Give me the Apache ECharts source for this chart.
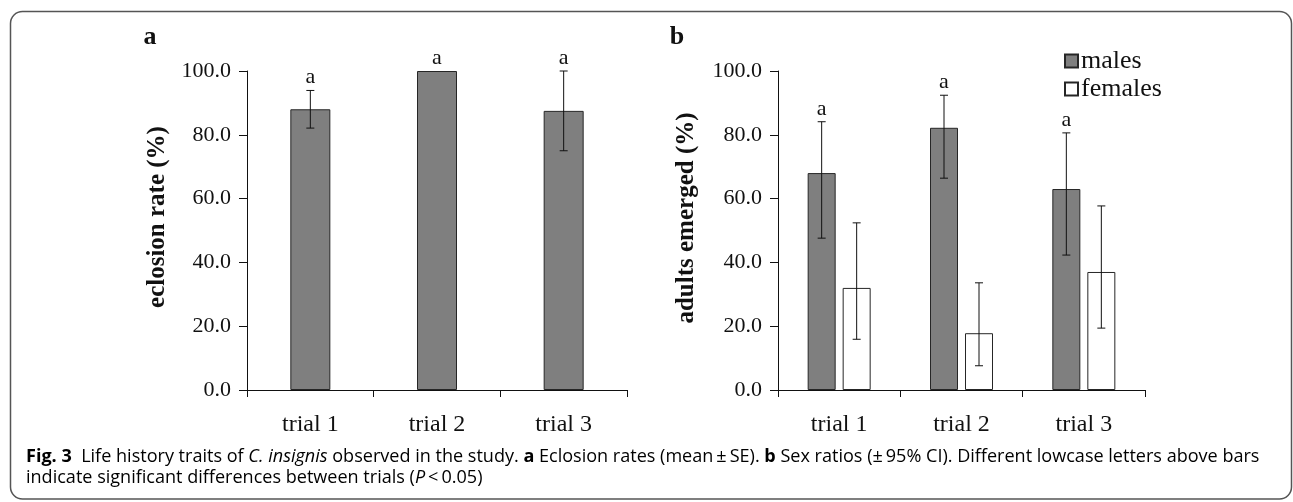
<!DOCTYPE html>
<html>
<head>
<meta charset="utf-8">
<script src="https://cdn.jsdelivr.net/npm/echarts@6/dist/echarts.min.js"></script>
<style>
html,body{margin:0;padding:0;background:#fff;}
#chart{width:1293px;height:502px;}
</style>
</head>
<body>
<div id="chart"></div>
<script>
// ---- data ----
const categories = ['trial 1', 'trial 2', 'trial 3'];
const yTickValues = [0, 20, 40, 60, 80, 100];

// panel a: eclosion rate (mean ± SE)
const eclosionMean = [88.0, 100.0, 87.5];
const eclosionSE = [5.9, 0.0, 12.5];
const eclosionLetters = ['a', 'a', 'a'];

// panel b: adults emerged (± 95% CI)
const malesPct = [68.0, 82.2, 63.0];
const malesCILow = [47.6, 66.4, 42.3];
const malesCIHigh = [84.1, 92.4, 80.6];
const femalesPct = [32.0, 17.8, 37.0];
const femalesCILow = [15.9, 7.6, 19.4];
const femalesCIHigh = [52.4, 33.6, 57.7];
const sexLetters = ['a', 'a', 'a'];

const legendNames = ['males', 'females'];
const yTitleA = 'eclosion rate (%)';
const yTitleB = 'adults emerged (%)';
const captionLine1 = [
  ['b', 'Fig. 3'], ['n', '  Life history traits of '], ['i', 'C. insignis'],
  ['n', ' observed in the study. '], ['b', 'a'], ['n', ' Eclosion rates (mean\u2009\u00b1\u2009SE). '],
  ['b', 'b'], ['n', ' Sex ratios (\u00b1\u200995% CI). Different lowcase letters above bars']
];
const captionLine2 = [
  ['n', 'indicate significant differences between trials ('], ['i', 'P'], ['n', '\u2009<\u20090.05)']
];

// ---- styling ----
const SERIF = '"Liberation Serif", "Times New Roman", serif';
const SANS = '"Open Sans", "Noto Sans", sans-serif';
const INK = '#111111';
const BAR_GREY = '#7f7f7f';
const BAR_EDGE = '#262626';

// fit caption font size to the width of the reference caption
function measure(parts, size) {
  const c = document.createElement('canvas').getContext('2d');
  let w = 0;
  parts.forEach(([k, t]) => {
    c.font = (k === 'b' ? 'bold ' : k === 'i' ? 'italic ' : '') + size + 'px ' + SANS;
    w += c.measureText(t).width;
  });
  return w;
}
const capSize = Math.min(19, 100 * 1234 / measure(captionLine1, 100));
const richCap = {
  n: { fontFamily: SANS, fontSize: capSize, color: '#231f20' },
  b: { fontFamily: SANS, fontSize: capSize, fontWeight: 'bold', color: '#231f20' },
  i: { fontFamily: SANS, fontSize: capSize, fontStyle: 'italic', color: '#231f20' }
};
const toRich = parts => parts.map(([k, t]) => '{' + k + '|' + t.replace(/[{}|]/g, '') + '}').join('');

function yAxisCfg(gridIndex) {
  return {
    type: 'value', gridIndex, min: yTickValues[0], max: yTickValues[yTickValues.length - 1],
    interval: yTickValues[1] - yTickValues[0],
    axisLine: { show: true, lineStyle: { color: INK, width: 1 } },
    axisTick: { show: true, length: 8, lineStyle: { color: INK } },
    splitLine: { show: false },
    axisLabel: { formatter: v => v.toFixed(1), fontFamily: SERIF, fontSize: 22, color: INK, margin: 16 }
  };
}
function xAxisCfg(gridIndex) {
  return {
    type: 'category', gridIndex, data: categories, boundaryGap: true,
    axisLine: { show: true, lineStyle: { color: INK, width: 1 } },
    axisTick: { show: true, length: 7, alignWithLabel: false, lineStyle: { color: INK } },
    axisLabel: { fontFamily: SERIF, fontSize: 24, color: INK, margin: 23 }
  };
}

function errorSeries(name, xi, yi, lows, highs, letters, offset) {
  return {
    type: 'custom', name, xAxisIndex: xi, yAxisIndex: yi, silent: true, z: 5,
    data: lows.map((lo, i) => [i, lo, highs[i]]),
    renderItem: (params, api) => {
      const i = api.value(0);
      const p0 = api.coord([i, api.value(1)]);
      const p1 = api.coord([i, api.value(2)]);
      const x = p0[0] + offset;
      const cap = 4;
      const st = { stroke: INK, lineWidth: 1 };
      const kids = [];
      if (Math.abs(p0[1] - p1[1]) > 0.5) {
        kids.push({ type: 'line', shape: { x1: x, y1: p0[1], x2: x, y2: p1[1] }, style: st });
        kids.push({ type: 'line', shape: { x1: x - cap, y1: p0[1], x2: x + cap, y2: p0[1] }, style: st });
        kids.push({ type: 'line', shape: { x1: x - cap, y1: p1[1], x2: x + cap, y2: p1[1] }, style: st });
      }
      if (letters) {
        kids.push({ type: 'text', style: { text: letters[params.dataIndex], x: x, y: p1[1] - 2,
          align: 'center', verticalAlign: 'bottom', fontFamily: SERIF, fontSize: 22, fill: INK } });
      }
      return { type: 'group', children: kids };
    }
  };
}

const BW_B = 28, GAP_B = 7;
const offB = (BW_B + GAP_B) / 2;

const option = {
  animation: false,
  backgroundColor: '#ffffff',
  grid: [
    { left: 247, right: 666, top: 71, bottom: 112 },
    { left: 778, right: 148, top: 71, bottom: 112 }
  ],
  xAxis: [xAxisCfg(0), xAxisCfg(1)],
  yAxis: [yAxisCfg(0), yAxisCfg(1)],
  legend: {
    data: legendNames, orient: 'vertical', left: 1059, top: 43,
    itemWidth: 13, itemHeight: 13, itemGap: 2, icon: 'rect',
    textStyle: { fontFamily: SERIF, fontSize: 26, color: INK, padding: [0, 0, 0, -2] }
  },
  series: [
    { type: 'bar', name: 'eclosion rate', xAxisIndex: 0, yAxisIndex: 0, data: eclosionMean, barWidth: 40,
      itemStyle: { color: BAR_GREY, borderColor: BAR_EDGE, borderWidth: 1 } },
    errorSeries('eclosion SE', 0, 0, eclosionMean.map((m, i) => m - eclosionSE[i]),
      eclosionMean.map((m, i) => m + eclosionSE[i]), eclosionLetters, 0),
    { type: 'bar', name: 'males', xAxisIndex: 1, yAxisIndex: 1, data: malesPct, barWidth: BW_B, barGap: '25%',
      itemStyle: { color: BAR_GREY, borderColor: BAR_EDGE, borderWidth: 1 } },
    { type: 'bar', name: 'females', xAxisIndex: 1, yAxisIndex: 1, data: femalesPct, barWidth: BW_B, barGap: '25%',
      itemStyle: { color: '#ffffff', borderColor: BAR_EDGE, borderWidth: 1 } },
    errorSeries('males CI', 1, 1, malesCILow, malesCIHigh, sexLetters, -offB),
    errorSeries('females CI', 1, 1, femalesCILow, femalesCIHigh, null, offB)
  ],
  graphic: [
    { type: 'rect', shape: { x: 10.5, y: 11.5, width: 1281, height: 487.5, r: 12 }, z: -10,
      style: { fill: 'none', stroke: '#555555', lineWidth: 1.5 } },
    { type: 'text', x: 150, y: 37, style: { text: 'a', fontFamily: SERIF, fontSize: 26, fontWeight: 'bold',
      fill: INK, align: 'center', verticalAlign: 'middle' } },
    { type: 'text', x: 677, y: 37, style: { text: 'b', fontFamily: SERIF, fontSize: 26, fontWeight: 'bold',
      fill: INK, align: 'center', verticalAlign: 'middle' } },
    { type: 'text', x: 158, y: 217, rotation: Math.PI / 2, style: { text: yTitleA, fontFamily: SERIF,
      fontSize: 25, fontWeight: 'bold', fill: INK, align: 'center', verticalAlign: 'middle' } },
    { type: 'text', x: 687, y: 218, rotation: Math.PI / 2, style: { text: yTitleB, fontFamily: SERIF,
      fontSize: 25, fontWeight: 'bold', fill: INK, align: 'center', verticalAlign: 'middle' } },
    { type: 'text', x: 26, y: 457, style: { text: toRich(captionLine1), rich: richCap, fontFamily: SANS,
      fontSize: capSize, align: 'left', verticalAlign: 'middle' } },
    { type: 'text', x: 26, y: 478, style: { text: toRich(captionLine2), rich: richCap, fontFamily: SANS,
      fontSize: capSize, align: 'left', verticalAlign: 'middle' } }
  ]
};

const chart = echarts.init(document.getElementById('chart'), null, { renderer: 'canvas' });
chart.setOption(option);
</script>
</body>
</html>
